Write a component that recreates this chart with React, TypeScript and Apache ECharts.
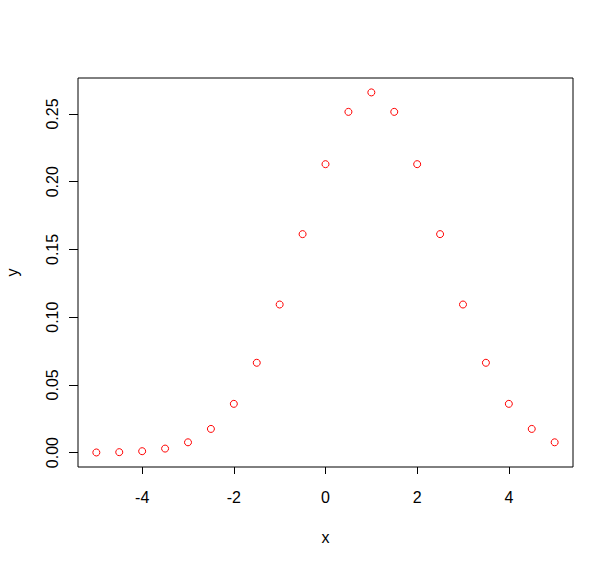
import React, { useEffect, useRef } from "react";
import * as echarts from "echarts";

const xValues = [-5, -4.5, -4, -3.5, -3, -2.5, -2, -1.5, -1, -0.5, 0, 0.5, 1, 1.5, 2, 2.5, 3, 3.5, 4, 4.5, 5];
const yValues = [
  0.0000892, 0.00032, 0.001028, 0.002955, 0.007597, 0.017481, 0.035994, 0.066317, 0.10934, 0.16131,
  0.21297, 0.25159, 0.26596, 0.25159, 0.21297, 0.16131, 0.10934, 0.066317, 0.035994, 0.017481, 0.007597,
];
const xTicks = [-4, -2, 0, 2, 4];
const yTicks = [0, 0.05, 0.1, 0.15, 0.2, 0.25];

export default function App() {
  const ref = useRef<HTMLDivElement>(null);
  useEffect(() => {
    if (!ref.current) return;
    const chart = echarts.init(ref.current, null, { renderer: "svg" });
    const font = "Liberation Sans, Arial, sans-serif";
    chart.setOption({
      animation: false,
      backgroundColor: "#ffffff",
      grid: {
        left: 78,
        top: 78,
        right: 41,
        bottom: 98,
        containLabel: false,
        outerBoundsMode: "none",
        show: true,
        borderColor: "#000",
        borderWidth: 1,
        backgroundColor: "transparent",
      },
      xAxis: {
        type: "value",
        min: -5.4,
        max: 5.4,
        name: "x",
        nameLocation: "middle",
        nameGap: 62,
        nameTextStyle: { fontFamily: font, fontSize: 16, color: "#000" },
        axisLine: { show: false, onZero: false },
        splitLine: { show: false },
        axisTick: { show: true, length: 7, inside: false, customValues: xTicks, lineStyle: { color: "#000", width: 1 } },
        axisLabel: { customValues: xTicks, fontFamily: font, fontSize: 16, color: "#000", margin: 22 },
      },
      yAxis: {
        type: "value",
        min: -0.01064,
        max: 0.2766,
        name: "y",
        nameLocation: "middle",
        nameGap: 58,
        nameRotate: 90,
        nameTextStyle: { fontFamily: font, fontSize: 16, color: "#000" },
        axisLine: { show: false, onZero: false },
        splitLine: { show: false },
        axisTick: { show: true, length: 9, inside: false, customValues: yTicks, lineStyle: { color: "#000", width: 1 } },
        axisLabel: {
          customValues: yTicks,
          rotate: 90,
          fontFamily: font,
          fontSize: 16,
          color: "#000",
          margin: 18,
          formatter: (v: number) => v.toFixed(2),
        },
      },
      series: [
        {
          type: "scatter",
          data: xValues.map((x, i) => [x, yValues[i]]),
          symbol: "circle",
          symbolSize: 7,
          itemStyle: { color: "rgba(255,255,255,0)", borderColor: "#ff0000", borderWidth: 1, opacity: 1 },
        },
      ],
    });
    return () => chart.dispose();
  }, []);
  return <div ref={ref} style={{ position: "absolute", left: 0, top: 0, width: 614, height: 565 }} />;
}
